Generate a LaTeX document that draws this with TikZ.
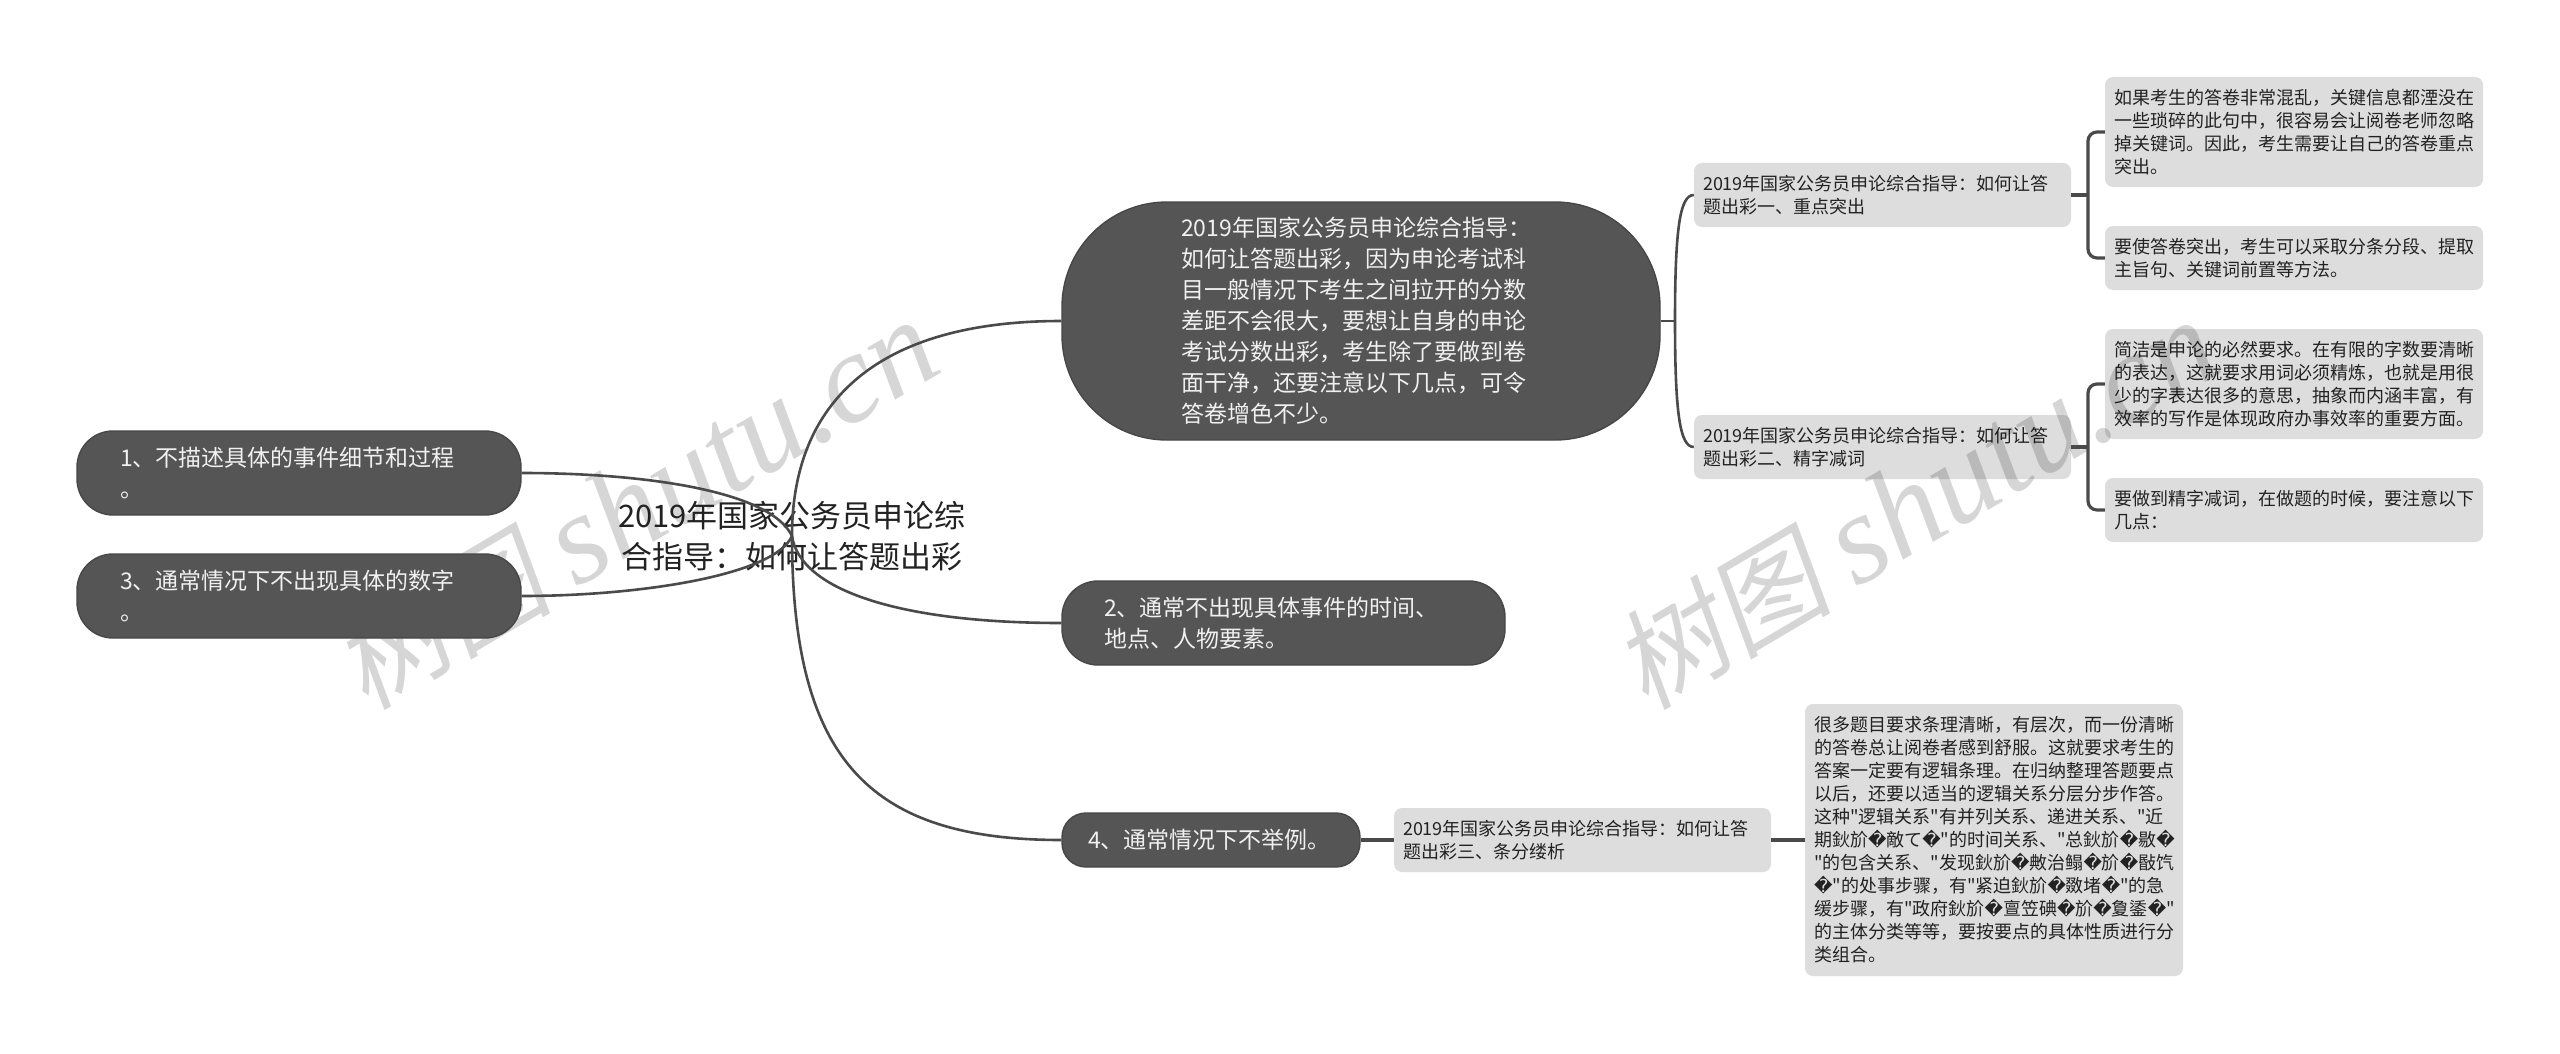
\documentclass[tikz,border=0pt]{standalone}
\usepackage{fontspec}
\setmainfont{Noto Sans CJK SC}
\newfontfamily\plaincjk[Ligatures=ResetAll]{Noto Sans CJK SC}
\newfontfamily\rpfont{DejaVu Sans}
\newfontfamily\wmcjk[FakeSlant=0.18]{Noto Sans CJK SC}
\newfontfamily\wmlat{Liberation Serif}
\newcommand{\rp}{{\rpfont\symbol{"FFFD}}}
\newcommand{\wmtext}{{\fontsize{110pt}{110pt}\selectfont\wmcjk 树图}\hspace{24pt}{\fontsize{128pt}{128pt}\selectfont\wmlat\itshape shutu.cn}}
\definecolor{pillfill}{HTML}{555555}
\definecolor{pilledge}{HTML}{474747}
\definecolor{leaffill}{HTML}{DDDDDD}
\definecolor{linkc}{HTML}{4A4A4A}
\definecolor{inkc}{HTML}{222222}
\tikzset{
  leafbox/.style={fill=leaffill,rounded corners=8pt,inner xsep=9pt,inner ysep=0pt,align=left,
    text=inkc,font=\fontsize{18pt}{23pt}\selectfont},
  pill/.style={fill=pillfill,draw=pilledge,line width=1.4pt,inner ysep=0pt,align=left,text=white!94!black,
    font=\fontsize{23pt}{31pt}\selectfont},
  link/.style={draw=linkc,line width=2.6pt},
  linkb/.style={draw=linkc,line width=3.2pt},
  wmark/.style={rotate=30.5,anchor=base west,text=black,text opacity=0.16,inner sep=0pt},
}
\begin{document}
\begin{tikzpicture}[x=1pt,y=-1pt]
\useasboundingbox (0,0) rectangle (2560,1054);
\fill[white] (0,0) rectangle (2560,1054);
% leaf boxes
\node[leafbox,minimum width=378pt,minimum height=110pt,text width=360pt] (l1) at (2294,132) {如果考生的答卷非常混乱，关键信息都湮没在\\一些琐碎的此句中，很容易会让阅卷老师忽略\\掉关键词。因此，考生需要让自己的答卷重点\\突出。};
\node[leafbox,minimum width=378pt,minimum height=64pt,text width=360pt] (l2) at (2294,258) {要使答卷突出，考生可以采取分条分段、提取\\主旨句、关键词前置等方法。};
\node[leafbox,minimum width=378pt,minimum height=110pt,text width=360pt] (l3) at (2294,384) {简洁是申论的必然要求。在有限的字数要清晰\\的表达，这就要求用词必须精炼，也就是用很\\少的字表达很多的意思，抽象而内涵丰富，有\\效率的写作是体现政府办事效率的重要方面。};
\node[leafbox,minimum width=378pt,minimum height=64pt,text width=360pt] (l4) at (2294,510) {要做到精字减词，在做题的时候，要注意以下\\几点：};
\node[leafbox,minimum width=377pt,minimum height=64pt,text width=359pt] (sa) at (1882.5,195) {2019年国家公务员申论综合指导：如何让答\\题出彩一、重点突出};
\node[leafbox,minimum width=377pt,minimum height=64pt,text width=359pt] (sb) at (1882.5,447) {2019年国家公务员申论综合指导：如何让答\\题出彩二、精字减词};
\node[leafbox,minimum width=377pt,minimum height=64pt,text width=359pt] (sc) at (1582.5,840) {2019年国家公务员申论综合指导：如何让答\\题出彩三、条分缕析};
\node[leafbox,minimum width=378pt,minimum height=272pt,text width=360pt,font=\plaincjk\fontsize{18pt}{23pt}\selectfont] (ld) at (1994,840) {很多题目要求条理清晰，有层次，而一份清晰\\的答卷总让阅卷者感到舒服。这就要求考生的\\答案一定要有逻辑条理。在归纳整理答题要点\\以后，还要以适当的逻辑关系分层分步作答。\\这种"逻辑关系"有并列关系、递进关系、"近\\期鈥斺\rp 敵て\rp "的时间关系、"总鈥斺\rp 敭\rp \\"的包含关系、"发现鈥斺\rp 敟治鳎\rp 斺\rp 敯饩\\\rp "的处事步骤，有"紧迫鈥斺\rp 敪堵\rp "的急\\缓步骤，有"政府鈥斺\rp 亶笠碘\rp 斺\rp 夐鋈\rp "\\的主体分类等等，要按要点的具体性质进行分\\类组合。};
% watermarks
\node[wmark] (wa) at (366,712) {\wmtext};
\node[wmark] (wb) at (1646,712) {\wmtext};
% dark nodes
\node[pill,rounded corners=105pt,minimum width=598pt,minimum height=238pt,inner xsep=119pt,text width=360pt] (big) at (1361,321) {2019年国家公务员申论综合指导：\\如何让答题出彩，因为申论考试科\\目一般情况下考生之间拉开的分数\\差距不会很大，要想让自身的申论\\考试分数出彩，考生除了要做到卷\\面干净，还要注意以下几点，可令\\答卷增色不少。};
\node[pill,rounded corners=36pt,minimum width=443pt,minimum height=84pt,inner xsep=42pt,text width=359pt] (nb) at (1283.5,623) {2、通常不出现具体事件的时间、\\地点、人物要素。};
\node[pill,rounded corners=24pt,minimum width=298pt,minimum height=54pt,inner xsep=26pt,text width=246pt] (nd) at (1211,840) {4、通常情况下不举例。};
\node[pill,rounded corners=36pt,minimum width=444pt,minimum height=84pt,inner xsep=43pt,text width=358pt] (na) at (299,473) {1、不描述具体的事件细节和过程\\。};
\node[pill,rounded corners=36pt,minimum width=444pt,minimum height=84pt,inner xsep=43pt,text width=358pt] (nc) at (299,596) {3、通常情况下不出现具体的数字\\。};
% root
\node[align=center,inner sep=0pt,text=inkc,font=\fontsize{31pt}{41pt}\selectfont] (root) at (792,536) {2019年国家公务员申论综\\合指导：如何让答题出彩};
% trunk points
\coordinate (tb) at (1675,321);
\coordinate (ta) at (2088,195);
\coordinate (tc) at (2088,447);
% connectors
\draw[link] (root.center) .. controls +(0,-136) and +(-182,0) .. (big.west);
\draw[link] (root.center) .. controls +(8,54) and +(-162,0) .. (nb.west);
\draw[link] (root.center) .. controls +(0,224) and +(-192,0) .. (nd.west);
\draw[link] (root.center) .. controls +(-22,-46) and +(119,0) .. (na.east);
\draw[link] (root.center) .. controls +(-17,39) and +(119,0) .. (nc.east);
\draw[link] (big.east) -- (tb);
\draw[link] (tb) .. controls +(0,-92) and +(-14,0) .. (sa.west);
\draw[link] (tb) .. controls +(0,92) and +(-14,0) .. (sb.west);
\draw[linkb] (sa.east) -- (ta);
\draw[linkb] (sb.east) -- (tc);
\draw[linkb,rounded corners=9pt] (l1.west) -| (ta) |- (l2.west);
\draw[linkb,rounded corners=9pt] (l3.west) -| (tc) |- (l4.west);
\draw[linkb] (nd.east) -- (sc.west);
\draw[linkb] (sc.east) -- (ld.west);
\end{tikzpicture}
\end{document}
